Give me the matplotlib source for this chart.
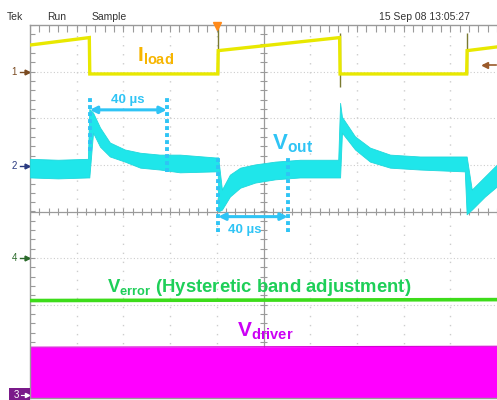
import numpy as np
import matplotlib
matplotlib.use("Agg")
import matplotlib.pyplot as plt
from matplotlib.patches import Rectangle

plt.rcParams["font.family"] = ["Liberation Sans", "DejaVu Sans"]
plt.rcParams["mathtext.fontset"] = "custom"
plt.rcParams["mathtext.rm"] = "Liberation Sans"
plt.rcParams["mathtext.bf"] = "Liberation Sans:bold"

## screen units are scope divisions: 10 across, 8 high, centre at (5, 0)

## channel 1 (load current), yellow
ch1_t = [0.0, 1.27, 1.28, 4.02, 4.03, 6.63, 6.64, 9.35, 9.36, 10.0]
ch1_v = [3.57, 3.73, 2.95, 2.95, 3.45, 3.73, 2.95, 2.95, 3.45, 3.53]
ch1_edge_t = [4.03, 6.64, 9.36]
ch1_edge_top = [3.99, 3.83, 3.83]
ch1_edge_bot = [2.95, 2.66, 2.95]

## channel 2 (output voltage), cyan noise band: upper and lower envelope
ch2_t = [0.0, 0.6, 1.24, 1.27, 1.35, 1.50, 1.71, 2.03, 2.36, 2.78, 3.21, 3.96,
         4.02, 4.03, 4.11, 4.28, 4.50, 4.82, 5.25, 5.78, 6.60, 6.64, 6.68,
         6.96, 7.28, 7.71, 8.35, 9.31, 9.35, 9.46, 9.74, 10.0]
ch2_hi = [1.13, 1.11, 1.13, 2.20, 2.12, 1.80, 1.48, 1.33, 1.26, 1.22, 1.22, 1.16,
          1.16, 1.16, 0.47, 0.79, 0.94, 1.01, 1.07, 1.11, 1.11, 2.33, 2.03,
          1.61, 1.37, 1.22, 1.18, 1.18, 1.18, 0.47, 0.75, 1.01]
ch2_lo = [0.73, 0.71, 0.73, 0.73, 1.69, 1.39, 1.18, 1.07, 0.94, 0.90, 0.84, 0.86,
          0.86, 0.00, 0.04, 0.32, 0.51, 0.62, 0.69, 0.73, 0.73, 0.73, 1.69,
          1.33, 1.07, 0.94, 0.90, 0.86, -0.06, 0.04, 0.32, 0.54]

## channel 4 (error voltage), green
ch4_t = [0.0, 10.0]
ch4_v = [-1.91, -1.89]

## channel 3 (driver), magenta block
ch3_t = [0.0, 10.0]
ch3_top = [-2.91, -2.89]

## channel ground markers on the left edge
marker_labels = ["1", "2", "4", "3"]
marker_levels = [3.0, 0.98, -1.0, -3.93]
marker_colors = ["#7a4a20", "#2a3a80", "#2a6a2a", "#ffffff"]

header_left = ["Tek", "Run", "Sample"]
header_date = "15 Sep 08 13:05:27"

GRID = "#cdcdcd"
AXIS = "#9a9a9a"
BLUE = "#2fc4f5"

fig = plt.figure(figsize=(4.97, 4.0), dpi=100)
ax = fig.add_axes([30 / 497, 2 / 400, 467 / 497, 373 / 400])
ax.set_xlim(0, 10)
ax.set_ylim(-4, 4)
ax.set_xticks([])
ax.set_yticks([])
ax.spines["right"].set_visible(False)
for side in ["left", "top", "bottom"]:
    ax.spines[side].set_color(AXIS)
    ax.spines[side].set_linewidth(1.0)

## graticule: dotted division lines, centre cross and border ticks
for x in range(1, 10):
    if x != 5:
        ax.axvline(x, color=GRID, lw=1.0, ls=(0, (1, 5.5)), zorder=1)
for y in range(-3, 4):
    if y != 0:
        ax.axhline(y, color=GRID, lw=0.8, ls=(0, (1, 2)), zorder=1)
ax.axvline(5, color=AXIS, lw=0.9, zorder=1)
ax.axhline(0, color=AXIS, lw=0.9, zorder=1)
tick_x = np.arange(0, 10.01, 0.2)
tick_y = np.arange(-4, 4.01, 0.2)
ax.vlines(tick_x, -0.07, 0.07, color=AXIS, lw=0.8, zorder=1)
ax.hlines(tick_y, 4.93, 5.07, color=AXIS, lw=0.8, zorder=1)
ax.vlines(tick_x, 3.86, 4.0, color=AXIS, lw=0.8, zorder=1)
ax.vlines(tick_x, -4.0, -3.9, color=AXIS, lw=0.8, zorder=1)
ax.hlines(tick_y, 0, 0.1, color=AXIS, lw=0.8, zorder=1)

## traces
ax.fill_between(ch3_t, -4.1, ch3_top, color="#ff00ff", lw=0, zorder=2)
ax.plot(ch3_t, ch3_top, color="#d400d4", lw=0.8, zorder=2)
ax.plot(ch4_t, ch4_v, color="#3ddc1a", lw=2.6, zorder=3)
ax.fill_between(ch2_t, ch2_lo, ch2_hi, color="#1fe6ea", lw=0.6, edgecolor="#1fd8dc", zorder=3)
ax.vlines(ch1_edge_t, ch1_edge_bot, ch1_edge_top, color="#7a7a30", lw=1.0, zorder=3)
ax.plot(ch1_t, ch1_v, color="#e8e800", lw=2.4, zorder=4, solid_joinstyle="miter")

## 40 us measurement markers
ax.vlines([1.28, 2.93], [1.3, 0.84], [2.46, 2.46], color=BLUE, lw=2.8, ls=(0, (1, 0.8)), zorder=5)
ax.annotate("", xy=(1.28, 2.18), xytext=(2.93, 2.18),
            arrowprops=dict(arrowstyle="<|-|>", color=BLUE, lw=2.2, mutation_scale=10, shrinkA=0, shrinkB=0),
            zorder=5)
ax.text(2.10, 2.40, "40 µs", color=BLUE, fontsize=9.5, fontweight="bold", ha="center", va="center", zorder=6)

ax.vlines([4.03, 5.52], -0.44, 1.16, color=BLUE, lw=2.8, ls=(0, (1, 0.8)), zorder=5)
ax.annotate("", xy=(4.03, -0.11), xytext=(5.52, -0.11),
            arrowprops=dict(arrowstyle="<|-|>", color=BLUE, lw=2.2, mutation_scale=10, shrinkA=0, shrinkB=0),
            zorder=5)
ax.text(4.60, -0.39, "40 µs", color=BLUE, fontsize=9.5, fontweight="bold", ha="center", va="center", zorder=6)

## trace labels
ax.text(2.29, 3.21, r"$\mathbf{I}_{\mathbf{load}}$", color="#f7b500", fontsize=15, zorder=6)
ax.text(5.18, 1.33, r"$\mathbf{V}_{\mathbf{out}}$", color=BLUE, fontsize=16, zorder=6)
ax.text(1.65, -1.73, r"$\mathbf{V}_{\mathbf{error}}$ (Hysteretic band adjustment)",
        color="#1ecf58", fontsize=13.3, fontweight="bold", zorder=6)
ax.text(4.43, -2.68, r"$\mathbf{V}_{\mathbf{driver}}$", color="#cc00f5", fontsize=15, zorder=6)

## trigger markers
ax.plot([4.0], [3.97], marker="v", color="#ff8a1a", ms=6, clip_on=False, zorder=7)
ax.plot([9.72, 9.98], [3.15, 3.15], color="#9a5a2a", lw=1.2, clip_on=False, zorder=7)
ax.plot([9.74], [3.15], marker="<", color="#9a5a2a", ms=4, clip_on=False, zorder=7)

## channel ground markers
for label, level, col in zip(marker_labels, marker_levels, marker_colors):
    if label == "3":
        ax.add_patch(Rectangle((-0.45, level - 0.14), 0.45, 0.28, fc="#7a1a8a", ec="none",
                               clip_on=False, zorder=7))
        ax.text(-0.3, level, label, color=col, fontsize=7, ha="center", va="center", clip_on=False, zorder=8)
        ax.plot([-0.2, -0.04], [level, level], color=col, lw=0.8, clip_on=False, zorder=8)
        ax.plot([-0.07], [level], marker=">", ms=3, color=col, clip_on=False, zorder=8)
    else:
        ax.text(-0.28, level, label, color=col, fontsize=7, ha="right", va="center", clip_on=False)
        ax.plot([-0.22, -0.02], [level, level], color=col, lw=1, clip_on=False)
        ax.plot([-0.06], [level], marker=">", ms=3.5, color=col, clip_on=False)

## header line
header_x = [15, 57, 109]
for label, xp in zip(header_left, header_x):
    fig.text(xp / 497, 1 - 17 / 400, label, fontsize=7.5, color="#333333", ha="center", va="center",
             family=["Liberation Sans Narrow", "Liberation Sans"])
fig.text(470 / 497, 1 - 17 / 400, header_date, fontsize=7.5, color="#333333", ha="right", va="center",
         family=["Liberation Sans Narrow", "Liberation Sans"])

fig.savefig("out.png", dpi=100, facecolor="white")
